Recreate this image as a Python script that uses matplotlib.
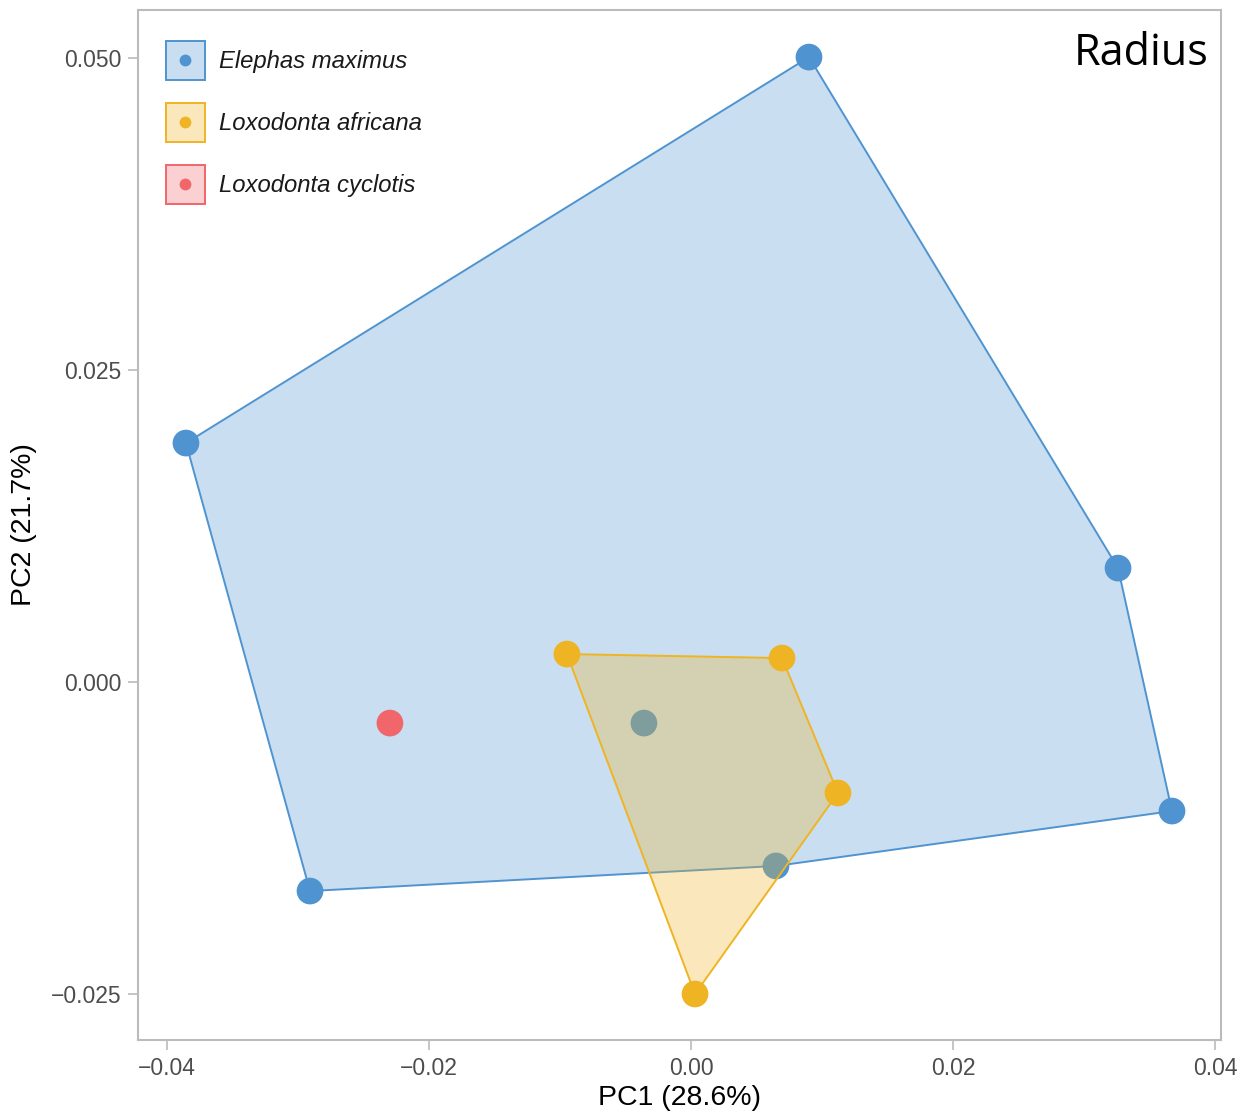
import matplotlib.pyplot as plt
import numpy as np
from matplotlib.colors import to_rgb
from matplotlib.legend_handler import HandlerBase
from matplotlib.patches import Patch, Polygon, Rectangle
from matplotlib.lines import Line2D

# PCA scores per species (PC1, PC2)
elephas_pc1 = [0.00901, -0.03855, 0.03260, 0.03672, -0.02908, 0.00649, -0.00359]
elephas_pc2 = [0.05008, 0.01915, 0.00913, -0.01034, -0.01675, -0.01474, -0.00329]
africana_pc1 = [-0.00947, 0.00695, 0.01122, 0.00031]
africana_pc2 = [0.00224, 0.00192, -0.00889, -0.02500]
cyclotis_pc1 = [-0.02298]
cyclotis_pc2 = [-0.00329]

species = ["Elephas maximus", "Loxodonta africana", "Loxodonta cyclotis"]
colours = ["#4F94D0", "#EFB424", "#F0666A"]
x_ticks = [-0.04, -0.02, 0.00, 0.02, 0.04]
y_ticks = [-0.025, 0.000, 0.025, 0.050]


def convex_hull(xs, ys):
    """Monotone chain hull, returns vertices in order"""
    pts = sorted(set(zip(xs, ys)))
    if len(pts) < 3:
        return pts

    def cross(o, a, b):
        return (a[0] - o[0]) * (b[1] - o[1]) - (a[1] - o[1]) * (b[0] - o[0])

    lower, upper = [], []
    for p in pts:
        while len(lower) >= 2 and cross(lower[-2], lower[-1], p) <= 0:
            lower.pop()
        lower.append(p)
    for p in reversed(pts):
        while len(upper) >= 2 and cross(upper[-2], upper[-1], p) <= 0:
            upper.pop()
        upper.append(p)
    return lower[:-1] + upper[:-1]


def add_hull(ax, xs, ys, colour, z):
    hull = convex_hull(xs, ys)
    if len(hull) < 3:
        return
    poly = Polygon(np.array(hull), closed=True, facecolor=colour, alpha=0.3,
                   edgecolor="none", zorder=z)
    ax.add_patch(poly)
    edge = Polygon(np.array(hull), closed=True, facecolor="none",
                   edgecolor=colour, linewidth=1.4, zorder=z + 0.1)
    ax.add_patch(edge)


class SwatchHandler(HandlerBase):
    """Filled square with a dot in the middle"""

    def create_artists(self, legend, orig_handle, xdescent, ydescent,
                       width, height, fontsize, trans):
        c = orig_handle.get_edgecolor()
        rect = Rectangle((-xdescent, -ydescent), width, height,
                         facecolor=(*c[:3], 0.3), edgecolor=c, linewidth=1.4,
                         transform=trans)
        dot = Line2D([width / 2 - xdescent], [height / 2 - ydescent], marker="o",
                     linestyle="none", markersize=8.5, markerfacecolor=c,
                     markeredgecolor="none", transform=trans)
        return [rect, dot]


plt.rcParams["font.family"] = ["Liberation Sans", "DejaVu Sans"]

fig = plt.figure(figsize=(12.5, 11.17), dpi=100)
ax = fig.add_axes([0.1104, 0.0689, 0.8664, 0.9221])

data = [(elephas_pc1, elephas_pc2), (africana_pc1, africana_pc2), (cyclotis_pc1, cyclotis_pc2)]

add_hull(ax, elephas_pc1, elephas_pc2, colours[0], 1)
for (xs, ys), c in zip(data, colours):
    ax.scatter(xs, ys, s=370, color=c, edgecolors="none", zorder=2)
add_hull(ax, africana_pc1, africana_pc2, colours[1], 3)
add_hull(ax, cyclotis_pc1, cyclotis_pc2, colours[2], 3)

ax.set_xlim(-0.04221, 0.04046)
ax.set_ylim(-0.02869, 0.05385)
ax.set_xticks(x_ticks)
ax.set_xticklabels(["\u22120.04", "\u22120.02", "0.00", "0.02", "0.04"])
ax.set_yticks(y_ticks)
ax.set_yticklabels(["\u22120.025", "0.000", "0.025", "0.050"])
ax.tick_params(length=7, width=1.2, color="#BBBBBB", labelsize=16.5,
               labelcolor="#4D4D4D", pad=5)
for sp in ax.spines.values():
    sp.set_color("#BBBBBB")
    sp.set_linewidth(1.5)

ax.set_xlabel("PC1 (28.6%)", fontsize=20.5, labelpad=4)
ax.set_ylabel("PC2 (21.7%)", fontsize=20.5, labelpad=10)

ax.text(0.988, 0.9466, "Radius", transform=ax.transAxes, ha="right", va="baseline",
        fontsize=31, family=["Open Sans", "DejaVu Sans"])

handles = [Patch(edgecolor=to_rgb(c)) for c in colours]
leg = ax.legend(handles, species, loc="upper left", bbox_to_anchor=(0.0259, 0.970),
                frameon=False, borderpad=0, borderaxespad=0, handlelength=1.62,
                handleheight=2.12, handletextpad=0.6, labelspacing=0.97,
                prop={"size": 17.2, "style": "italic"},
                handler_map={Patch: SwatchHandler()})
for t in leg.get_texts():
    t.set_color("#1A1A1A")

fig.savefig("out.png", dpi=100, facecolor="white")
